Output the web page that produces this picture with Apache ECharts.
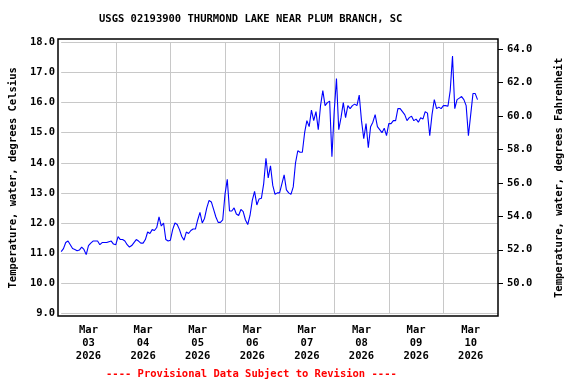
<!DOCTYPE html>
<html>
<head>
<meta charset="utf-8">
<script src="https://cdn.jsdelivr.net/npm/echarts@6/dist/echarts.min.js"></script>
<style>html,body{margin:0;padding:0;background:#fff}#c{width:576px;height:384px}</style>
</head>
<body>
<div id="c"></div>
<script>
// Hourly water temperature (deg C), starting Mar 03 2026 00:00
const temps = [
  // Mar 03
  11.05, 11.15, 11.35, 11.4, 11.28, 11.15, 11.12, 11.08, 11.1, 11.2, 11.12, 10.95,
  11.25, 11.33, 11.4, 11.4, 11.4, 11.28, 11.35, 11.35, 11.35, 11.38, 11.4, 11.3,
  // Mar 04
  11.28, 11.55, 11.45, 11.45, 11.4, 11.28, 11.2, 11.25, 11.35, 11.45, 11.4, 11.33,
  11.33, 11.45, 11.7, 11.65, 11.78, 11.75, 11.85, 12.2, 11.9, 12.0, 11.45, 11.4,
  // Mar 05
  11.43, 11.78, 12.0, 11.95, 11.78, 11.55, 11.43, 11.7, 11.65, 11.75, 11.8, 11.8,
  12.1, 12.35, 12.0, 12.15, 12.5, 12.75, 12.7, 12.45, 12.2, 12.02, 12.02, 12.1,
  // Mar 06
  12.95, 13.45, 12.4, 12.4, 12.5, 12.3, 12.25, 12.45, 12.38, 12.1, 11.95, 12.25,
  12.75, 13.05, 12.6, 12.8, 12.82, 13.3, 14.15, 13.5, 13.9, 13.25, 12.95, 13.0,
  // Mar 07
  13.0, 13.3, 13.6, 13.1, 13.0, 12.95, 13.2, 14.0, 14.4, 14.35, 14.35, 15.0,
  15.4, 15.2, 15.75, 15.4, 15.7, 15.1, 15.9, 16.4, 15.9, 16.0, 16.05, 14.2,
  // Mar 08
  15.7, 16.8, 15.1, 15.5, 16.0, 15.5, 15.9, 15.8, 15.9, 15.95, 15.9, 16.25,
  15.4, 14.8, 15.3, 14.5, 15.2, 15.35, 15.6, 15.2, 15.1, 15.0, 15.15, 14.9,
  // Mar 09
  15.3, 15.3, 15.4, 15.4, 15.8, 15.8, 15.7, 15.6, 15.4, 15.5, 15.55, 15.4,
  15.45, 15.35, 15.5, 15.45, 15.7, 15.65, 14.9, 15.6, 16.1, 15.8, 15.85, 15.8,
  // Mar 10
  15.9, 15.9, 15.88, 16.4, 17.55, 15.8, 16.1, 16.15, 16.2, 16.1, 15.9, 14.9,
  15.6, 16.3, 16.3, 16.1
];
const dayLabels = ['03', '04', '05', '06', '07', '08', '09', '10'];
const monthLabel = 'Mar';
const yearLabel = '2026';
const celsiusTicks = [9, 10, 11, 12, 13, 14, 15, 16, 17, 18];
const fahrenheitTicks = [50, 52, 54, 56, 58, 60, 62, 64];
const titleText = 'USGS 02193900 THURMOND LAKE NEAR PLUM BRANCH, SC';
const captionText = '---- Provisional Data Subject to Revision ----';

const FONT = 'DejaVu Sans Mono';
const cMin = celsiusTicks[0], cMax = celsiusTicks[celsiusTicks.length - 1];
const toF = c => c * 1.8 + 32;

const seriesData = temps.map((v, i) => [i, v]);

const chart = echarts.init(document.getElementById('c'), null, { renderer: 'canvas' });
const txt = { fontFamily: FONT, fontWeight: 'bold', fontSize: 10.5, color: '#000' };

chart.setOption({
  animation: false,
  backgroundColor: '#fff',
  title: [
    { text: titleText, left: 99, top: 14, padding: 0, textStyle: Object.assign({}, txt) },
    { text: captionText, left: 106, top: 369, padding: 0, textStyle: Object.assign({}, txt, { color: '#ff0000' }) }
  ],
  grid: { left: 58, right: 78, top: 42.4, bottom: 70.7, containLabel: false },
  xAxis: [
    {
      type: 'value', min: 0, max: 192, interval: 24,
      axisLine: { show: false, onZero: false }, axisTick: { show: false }, axisLabel: { show: false },
      splitLine: { show: true, showMinLine: false, showMaxLine: false, lineStyle: { color: '#c8c8c8', width: 1 } }
    },
    {
      type: 'value', min: 0, max: 192, interval: 12, position: 'bottom',
      axisLine: { show: false, onZero: false }, axisTick: { show: false }, splitLine: { show: false },
      axisLabel: Object.assign({}, txt, {
        interval: 0, margin: 10, lineHeight: 13,
        showMinLabel: false, showMaxLabel: false,
        formatter: v => {
          if (v % 24 !== 12) return '';
          const d = dayLabels[(v - 12) / 24];
          return d ? monthLabel + '\n' + d + '\n' + yearLabel : '';
        }
      })
    }
  ],
  yAxis: [
    {
      type: 'value', min: cMin, max: cMax, interval: 1, position: 'left',
      name: 'Temperature, water, degrees Celsius', nameLocation: 'middle', nameRotate: 90, nameGap: 40,
      nameTextStyle: Object.assign({}, txt),
      axisLine: { show: false, onZero: false }, axisTick: { show: false },
      axisLabel: Object.assign({}, txt, { margin: 6, formatter: v => v.toFixed(1) }),
      splitLine: { show: true, lineStyle: { color: '#c8c8c8', width: 1 } }
    },
    {
      type: 'value', min: toF(cMin), max: toF(cMax), position: 'right',
      name: 'Temperature, water, degrees Fahrenheit', nameLocation: 'middle', nameRotate: 90, nameGap: 56,
      nameTextStyle: Object.assign({}, txt),
      axisLine: { show: false, onZero: false },
      axisTick: { show: true, inside: false, length: 5, customValues: fahrenheitTicks, lineStyle: { color: '#000', width: 1 } },
      axisLabel: Object.assign({}, txt, { margin: 9, customValues: fahrenheitTicks, formatter: v => v.toFixed(1) }),
      splitLine: { show: false }
    }
  ],
  graphic: [
    { type: 'rect', shape: { x: 58, y: 39, width: 440, height: 277 }, style: { fill: null, stroke: '#000', lineWidth: 1.5 }, z: 100 }
  ],
  series: [
    {
      type: 'line', xAxisIndex: 0, yAxisIndex: 0, data: seriesData,
      showSymbol: false, symbol: 'none',
      lineStyle: { color: '#0000ff', width: 1.1 }, itemStyle: { color: '#0000ff' }
    }
  ]
});
</script>
</body>
</html>
